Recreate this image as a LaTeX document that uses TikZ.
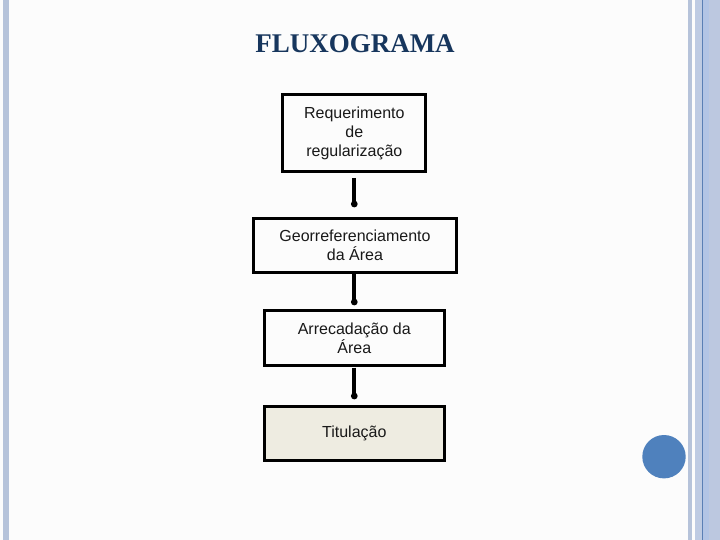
\documentclass[tikz,border=0pt]{standalone}
\usepackage{fontspec}
\setmainfont{Liberation Sans}
\newfontfamily\titlefont{Liberation Serif}
\definecolor{titleblue}{RGB}{23,54,93}
\definecolor{stripe}{RGB}{182,195,218}
\definecolor{stripeA}{RGB}{190,203,227}
\definecolor{stripeB}{RGB}{178,196,229}
\definecolor{stripeC}{RGB}{188,200,224}
\definecolor{stripeline}{RGB}{90,127,181}
\definecolor{dotblue}{RGB}{79,129,189}
\definecolor{beige}{RGB}{238,236,225}
\definecolor{textgray}{RGB}{25,25,25}
\begin{document}
\begin{tikzpicture}[x=1pt,y=-1pt,
  flowbox/.style={draw=black,line width=3pt,minimum height=#1,align=center,inner sep=0pt,
    text=textgray,font=\fontsize{16pt}{19pt}\selectfont},
  flowarrow/.style={line width=4pt,draw=black}]
\useasboundingbox (0,0) rectangle (720,540);
\fill[white!99!black] (0,0) rectangle (720,540);
% side decorations
\fill[stripe] (2.7,0) rectangle (9,540);
\fill[stripe] (688,0) rectangle (691.7,540);
\fill[stripeA] (695,0) rectangle (702,540);
\fill[stripeline] (702,0) rectangle (703.2,540);
\fill[stripeB] (703.2,0) rectangle (708.7,540);
\fill[stripeC] (708.7,0) rectangle (720,540);
\fill[dotblue] (664,456.7) circle (21.7);
% title
\node (title) at (355,44) {\titlefont\bfseries\fontsize{27pt}{30pt}\selectfont\color{titleblue}FLUXOGRAMA};
% boxes
\node[flowbox=77pt,minimum width=143pt] (b1) at (354.3,133) {Requerimento\\de\\regularização};
\node[flowbox=54pt,minimum width=203.6pt] (b2) at (355,245.3) {Georreferenciamento\\da Área};
\node[flowbox=54.4pt,minimum width=180.3pt] (b3) at (354.3,338) {Arrecadação da\\Área};
\node[flowbox=54.3pt,minimum width=180.3pt,fill=beige] (b4) at (354.3,433.6) {Titulação};
% arrows
\coordinate (a1e) at (354.3,204);
\coordinate (a2e) at (354.3,302);
\coordinate (a3e) at (354.3,396);
\draw[flowarrow] ([yshift=-5pt]b1.south) -- (a1e);
\fill (a1e) circle (3.4);
\draw[flowarrow] (b2.south -| a2e) -- (a2e);
\fill (a2e) circle (3.4);
\draw[flowarrow] ([yshift=-1pt]b3.south) -- (a3e);
\fill (a3e) circle (3.4);
\end{tikzpicture}
\end{document}
